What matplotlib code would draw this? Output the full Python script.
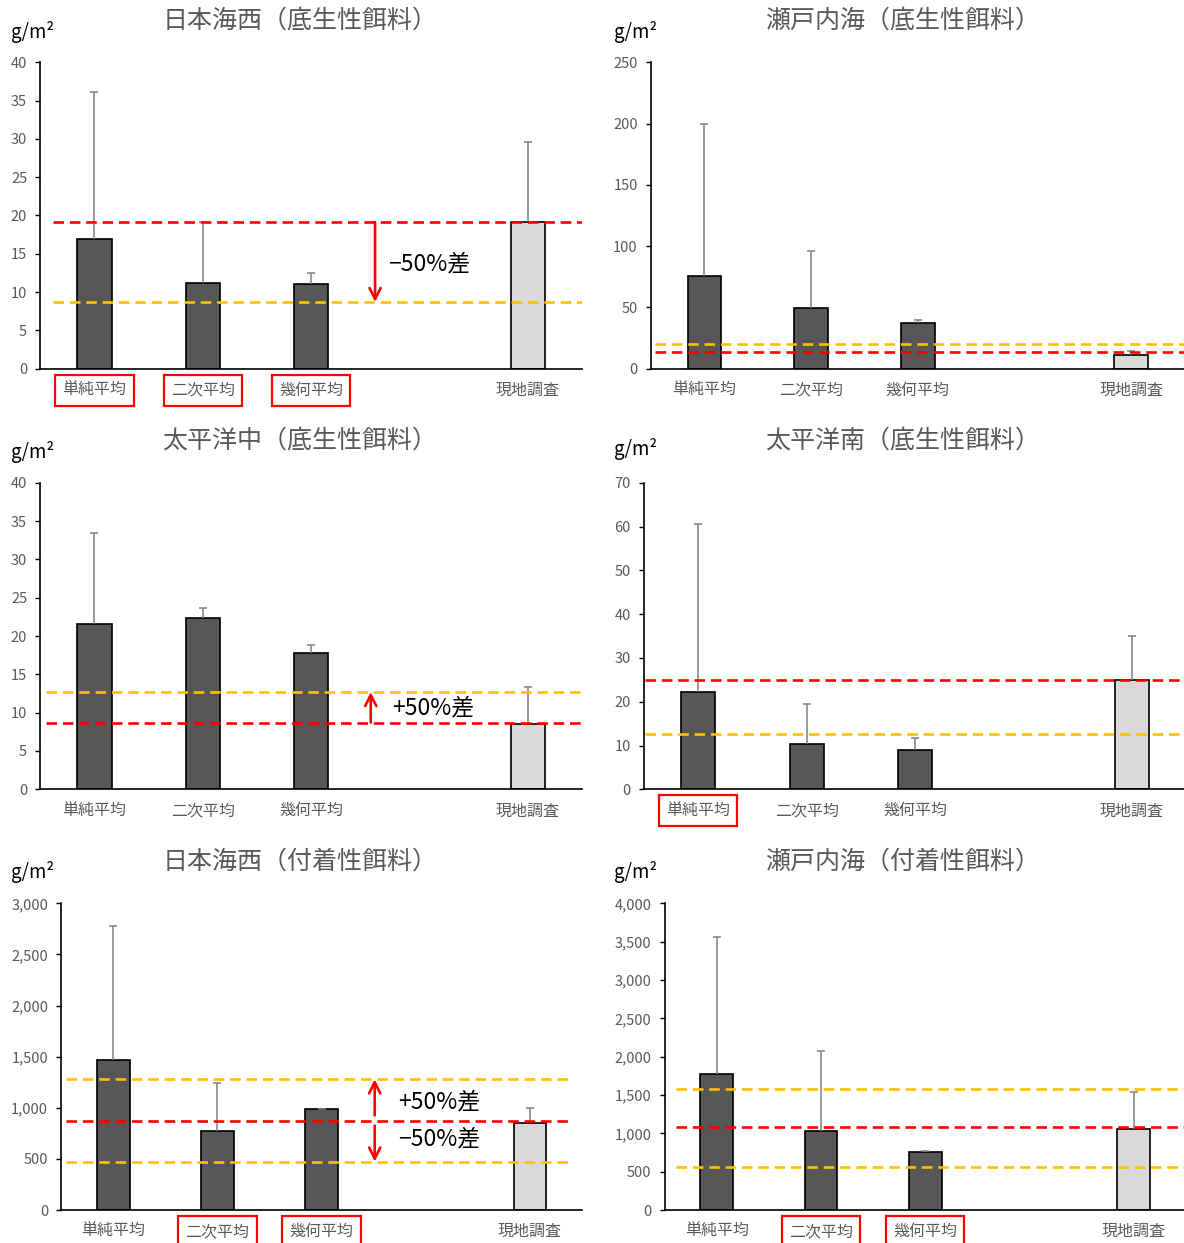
import numpy as np
import matplotlib
matplotlib.use("Agg")
import matplotlib.pyplot as plt
from matplotlib.ticker import FuncFormatter, MultipleLocator
from matplotlib.transforms import offset_copy

plt.rcParams["font.family"] = ["Noto Sans CJK JP", "DejaVu Sans"]

# category slots (4th slot is an empty gap)
labels = ["単純平均", "二次平均", "幾何平均", "", "現地調査"]

titles = [
    "日本海西（底生性餌料）",
    "瀬戸内海（底生性餌料）",
    "太平洋中（底生性餌料）",
    "太平洋南（底生性餌料）",
    "日本海西（付着性餌料）",
    "瀬戸内海（付着性餌料）",
]
y_max = [40, 250, 40, 70, 3000, 4000]
y_step = [5, 50, 5, 10, 500, 500]

# bar values and upper error (only plus side shown)
values = [
    [16.9, 11.2, 11.1, 19.2],
    [75.4, 49.5, 37.5, 11.4],
    [21.6, 22.3, 17.8, 8.5],
    [22.3, 10.3, 9.05, 24.9],
    [1464, 776, 985, 854],
    [1774, 1034, 757, 1052],
]
errors = [
    [19.2, 7.9, 1.35, 10.4],
    [124.5, 46.5, 2.2, 3.3],
    [11.8, 1.4, 1.05, 4.8],
    [38.2, 9.2, 2.75, 10.2],
    [1314, 469, 0, 147],
    [1791, 1040, 8, 483],
]
red_lines = [19.15, 13.3, 8.7, 25.0, 874, 1083]
orange_lines = [[8.7], [19.9], [12.7], [12.55], [1279, 473], [1583, 561]]
boxed = [[0, 1, 2], [], [], [0], [1, 2], [1, 2]]

# arrows: (x, from, to) and texts: (x, y, text)
arrows = [
    [(2.59, 19.15, 8.7)],
    [],
    [(2.55, 8.7, 12.7)],
    [],
    [(2.51, 925, 1279), (2.51, 825, 473)],
    [],
]
notes = [
    [(2.71, 13.7, "−50%差")],
    [],
    [(2.75, 10.6, "+50%差")],
    [],
    [(2.73, 1056, "+50%差"), (2.73, 694, "−50%差")],
    [],
]

# layout in pixels
W, H = 1184, 1243
axes_px = [
    (40.3, 62.3, 582, 368.7),
    (651, 62.3, 1184.5, 368.7),
    (40.3, 482.7, 582, 789.3),
    (644, 482.7, 1186, 789.3),
    (61.2, 903.3, 582, 1210),
    (664.5, 903.3, 1186, 1210),
]
line_span = [(-0.38, 4.5), (-0.465, 4.5), (-0.45, 4.5), (-0.49, 4.5), (-0.454, 4.4), (-0.394, 4.5)]
title_px = [(300, 21), (903, 21), (300, 441), (903, 441), (300, 862), (903, 862)]
unit_px = [(11, 32), (614, 32), (11, 452), (614, 449), (11, 872), (614, 872)]

fig = plt.figure(figsize=(W / 100, H / 100), dpi=100)

bar_x = [i for i, lab in enumerate(labels) if lab]
bar_colors = ["#575757", "#575757", "#575757", "#D9D9D9"]

for k in range(6):
    l, t, r, b = axes_px[k]
    ax = fig.add_axes([l / W, 1 - b / H, (r - l) / W, (b - t) / H])

    ax.bar(bar_x, values[k], width=0.315, color=bar_colors,
           edgecolor="black", linewidth=1.2, zorder=2)
    eb = ax.errorbar(bar_x, values[k], yerr=[np.zeros(4), errors[k]], fmt="none",
                     ecolor="#7F7F7F", elinewidth=1.1, capsize=3, capthick=1.1, zorder=3)
    eb[1][0].set_visible(False)

    for v in orange_lines[k]:
        ax.plot(line_span[k], [v, v], color="#FFC000", lw=1.9, dashes=(4, 2.2), zorder=4)
    ax.plot(line_span[k], [red_lines[k]] * 2, color="#FF0000", lw=1.9, dashes=(4, 2.2), zorder=4)

    for x, y0, y1 in arrows[k]:
        ax.annotate("", xy=(x, y1), xytext=(x, y0),
                    arrowprops=dict(arrowstyle="->", color="red", lw=1.9,
                                    shrinkA=0, shrinkB=0, mutation_scale=20), zorder=5)
    for x, y, s in notes[k]:
        ax.text(x, y, s, fontsize=16.5, ha="left", va="center", color="black")

    ax.set_xlim(-0.5, 4.5)
    ax.set_ylim(0, y_max[k])
    ax.yaxis.set_major_locator(MultipleLocator(y_step[k]))
    ax.yaxis.set_major_formatter(FuncFormatter(lambda v, p: f"{v:,.0f}"))
    ax.set_xticks([])
    ax.tick_params(axis="y", length=3.5, width=1, pad=6, labelsize=10.5, labelcolor="#595959")
    for side in ["top", "right"]:
        ax.spines[side].set_visible(False)
    for side in ["left", "bottom"]:
        ax.spines[side].set_linewidth(1.2)
        ax.spines[side].set_color("black")

    # category labels on a common baseline below the axis
    lab_trans = offset_copy(ax.get_xaxis_transform(), fig=fig, x=0, y=-26, units="dots")
    for i, lab in enumerate(labels):
        if not lab:
            continue
        txt = ax.text(i, 0, lab, transform=lab_trans, ha="center", va="baseline",
                      fontsize=11.5, color="#595959", clip_on=False)
        if i in boxed[k]:
            txt.set_bbox(dict(boxstyle="square,pad=0.45", fc="none", ec="red", lw=1.6))

    tx, ty = title_px[k]
    fig.text(tx / W, 1 - ty / H, titles[k], ha="center", va="center",
             fontsize=18, color="#595959")
    ux, uy = unit_px[k]
    fig.text(ux / W, 1 - uy / H, "g/m²", ha="left", va="center", fontsize=13.5, color="black")

fig.savefig("out.png", dpi=100)
